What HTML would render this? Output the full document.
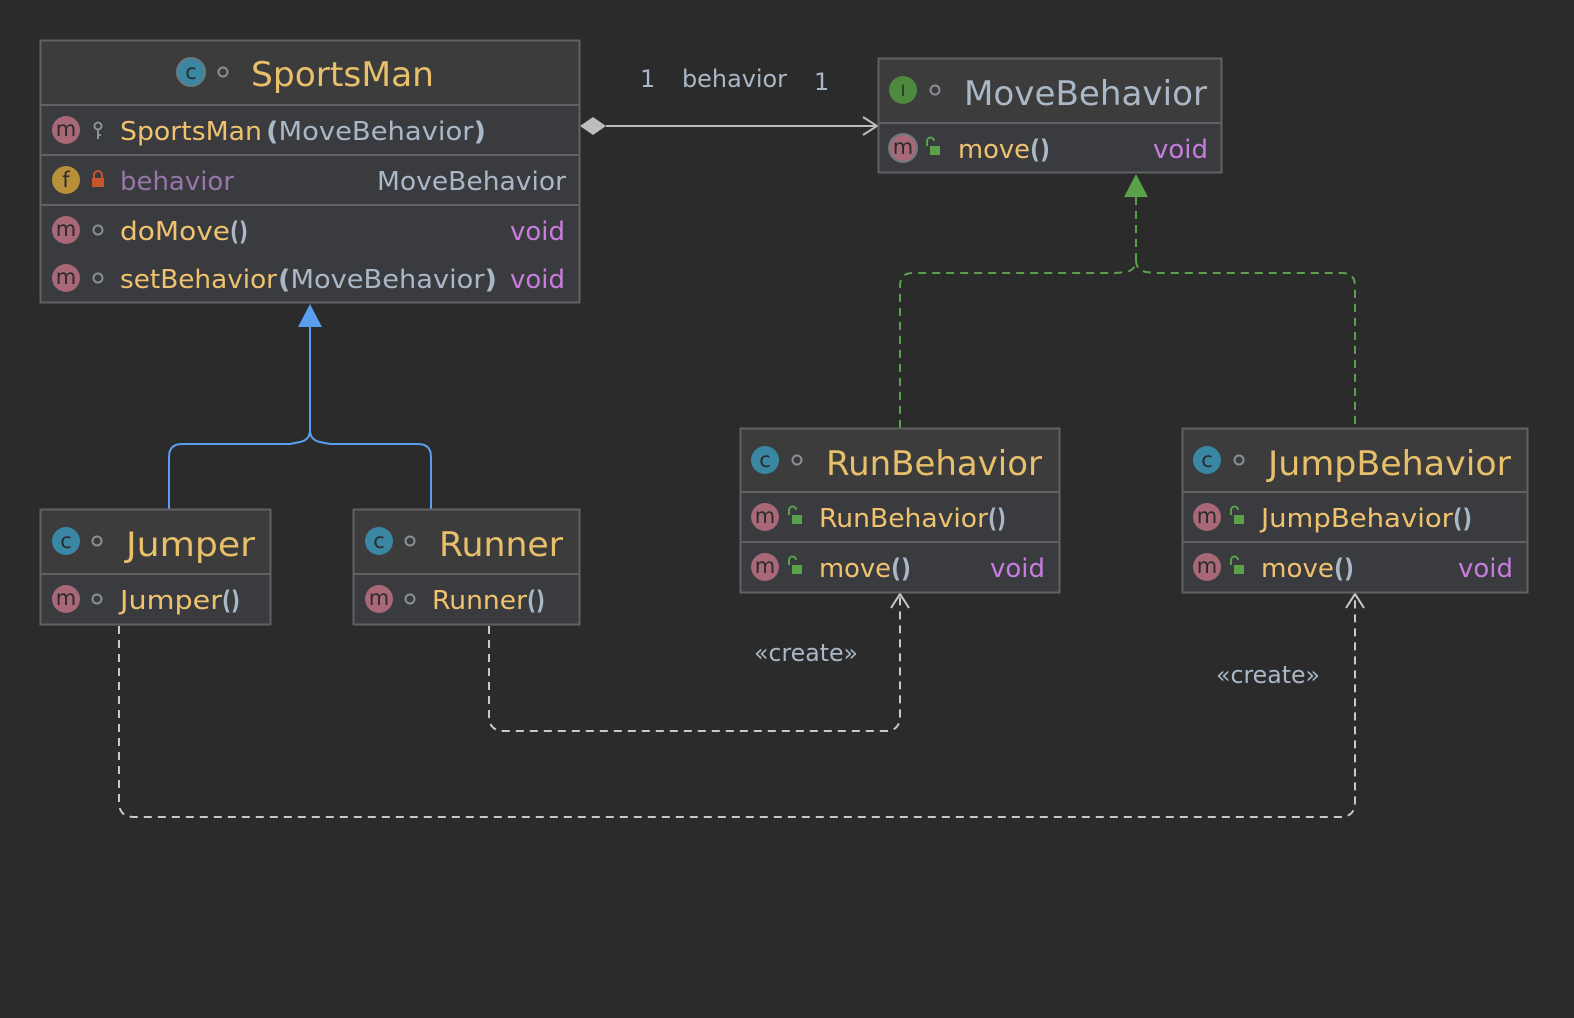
<!DOCTYPE html>
<html><head><meta charset="utf-8"><style>
html,body{margin:0;padding:0;background:#2b2b2b;}
svg{display:block;}
text{font-family:"DejaVu Sans","Liberation Sans",sans-serif;}
.t{font-size:34px;fill:#e8bf6a;}
.m{font-size:26px;fill:#f0c26f;}
.g{font-size:26px;fill:#a9b7c6;}
.v{font-size:26px;fill:#c77dde;}
.p{font-size:26px;fill:#a9b7c6;font-weight:bold;}
.ic{font-size:21px;fill:#2b2b2b;text-anchor:middle;}
.lbl{font-size:24px;fill:#a9b7c6;}
</style></head><body>
<svg width="1574" height="1018" viewBox="0 0 1574 1018" xmlns="http://www.w3.org/2000/svg">
<defs>
<g id="mi"><circle r="14" fill="#a86878"/><text y="6" class="ic">m</text></g>
<g id="ci"><circle r="14" fill="#3a87a3"/><text y="7" class="ic">c</text></g>
<g id="dot"><circle r="4.5" fill="none" stroke="#8a9099" stroke-width="2"/></g>
<g id="unl"><path d="M-6,-2 v-5 a3.5,3.5 0 0 1 7,0" fill="none" stroke="#59a14b" stroke-width="2"/><rect x="-3" y="-2" width="10" height="9" fill="#59a14b"/></g>
</defs>

<g fill="none" stroke-width="2">
<path d="M310,326 V430 Q310,440 300,442 L290,444 H182 Q169,444 169,457 V509" stroke="#5a9ef0"/>
<path d="M310,430 Q310,440 320,442 L330,444 H418 Q431,444 431,457 V509" stroke="#5a9ef0"/>
<path d="M1136,197 V260 Q1136,270 1126,272 L1116,273 H913 Q900,273 900,286 V428" stroke="#59a14b" stroke-dasharray="8,6"/>
<path d="M1136,260 Q1136,270 1146,272 L1156,273 H1342 Q1355,273 1355,286 V428" stroke="#59a14b" stroke-dasharray="8,6"/>
<path d="M489,626 V716 Q489,731 504,731 H885 Q900,731 900,716 V594" stroke="#c9c9c9" stroke-dasharray="8,6"/>
<path d="M119,626 V802 Q119,817 134,817 H1340 Q1355,817 1355,802 V594" stroke="#c9c9c9" stroke-dasharray="8,6"/>
<path d="M891,608 L900,594 L909,608" stroke="#c9c9c9"/>
<path d="M1346,608 L1355,594 L1364,608" stroke="#c9c9c9"/>
<path d="M606,126 H877" stroke="#bdbdbd"/>
<path d="M863,117 L877,126 L863,135" stroke="#bdbdbd"/>
</g>
<polygon points="580,126 593,117 606,126 593,135" fill="#bdbdbd"/>
<polygon points="310,304 298,327 322,327" fill="#5a9ef0"/>
<polygon points="1136,174 1124,197 1148,197" fill="#59a14b"/>
<text x="640" y="87" class="lbl">1</text>
<text x="682" y="87" class="lbl" textLength="105" lengthAdjust="spacingAndGlyphs">behavior</text>
<text x="814" y="90" class="lbl">1</text>
<text x="754" y="661" class="lbl" textLength="104" lengthAdjust="spacingAndGlyphs">«create»</text>
<text x="1216" y="683" class="lbl" textLength="104" lengthAdjust="spacingAndGlyphs">«create»</text>

<rect x="40.5" y="40.5" width="539" height="262" fill="#393b3e" stroke="#5f6163" stroke-width="2"/>
<rect x="41.5" y="41.5" width="537" height="63" fill="#3c3c3c"/>
<line x1="41" y1="105" x2="579" y2="105" stroke="#5f6163" stroke-width="2"/>
<line x1="41" y1="155" x2="579" y2="155" stroke="#5f6163" stroke-width="2"/>
<line x1="41" y1="205" x2="579" y2="205" stroke="#5f6163" stroke-width="2"/>
<g transform="translate(191,72)"><circle r="14" fill="#3a87a3" stroke="#6b7a80" stroke-width="2"/><text y="7" class="ic">c</text></g>
<use href="#dot" x="223" y="72"/>
<text x="251" y="86" class="t" textLength="183" lengthAdjust="spacingAndGlyphs">SportsMan</text>
<use href="#mi" x="66" y="130"/>
<g transform="translate(98,130)" fill="none" stroke="#8a9099" stroke-width="2"><circle cy="-4" r="3.5"/><path d="M0,0 v9 M0,5 h3"/></g>
<text x="120" y="140" class="m" textLength="142" lengthAdjust="spacingAndGlyphs">SportsMan</text>
<text x="266" y="140" class="g" textLength="220" lengthAdjust="spacingAndGlyphs"><tspan font-weight="bold">(</tspan>MoveBehavior<tspan font-weight="bold">)</tspan></text>
<g transform="translate(66,180)"><circle r="14" fill="#b8903a"/><text y="7" class="ic">f</text></g>
<g transform="translate(98,180)"><path d="M-4,-2 v-3 a4,4 0 0 1 8,0 v3" fill="none" stroke="#c8552e" stroke-width="2"/><rect x="-6" y="-2" width="12" height="9" fill="#c8552e"/></g>
<text x="120" y="190" style="font-size:26px;fill:#9876aa" textLength="114" lengthAdjust="spacingAndGlyphs">behavior</text>
<text x="377" y="190" class="g" textLength="189" lengthAdjust="spacingAndGlyphs">MoveBehavior</text>
<use href="#mi" x="66" y="230"/><use href="#dot" x="98" y="230"/>
<text x="120" y="240" class="m" textLength="110" lengthAdjust="spacingAndGlyphs">doMove</text>
<text x="230" y="240" class="p" textLength="18" lengthAdjust="spacingAndGlyphs">()</text>
<text x="510" y="240" class="v" textLength="55" lengthAdjust="spacingAndGlyphs">void</text>
<use href="#mi" x="66" y="278"/><use href="#dot" x="98" y="278"/>
<text x="120" y="288" class="m" textLength="157" lengthAdjust="spacingAndGlyphs">setBehavior</text>
<text x="278" y="288" class="g" textLength="219" lengthAdjust="spacingAndGlyphs"><tspan font-weight="bold">(</tspan>MoveBehavior<tspan font-weight="bold">)</tspan></text>
<text x="510" y="288" class="v" textLength="55" lengthAdjust="spacingAndGlyphs">void</text>

<rect x="878.5" y="58.5" width="343" height="114" fill="#393b3e" stroke="#5f6163" stroke-width="2"/>
<rect x="879.5" y="59.5" width="341" height="63" fill="#3c3c3c"/>
<line x1="879" y1="123" x2="1221" y2="123" stroke="#5f6163" stroke-width="2"/>
<g transform="translate(903,90)"><circle r="14" fill="#4d8a3f"/><text y="6" class="ic" style="font-size:16px">I</text></g>
<use href="#dot" x="935" y="90"/>
<text x="964" y="105" style="font-size:34px;fill:#a9b7c6" textLength="243" lengthAdjust="spacingAndGlyphs">MoveBehavior</text>
<g transform="translate(903,148)"><circle r="14" fill="#a86878" stroke="#6b7a80" stroke-width="2"/><text y="6" class="ic">m</text></g>
<use href="#unl" x="933" y="148"/>
<text x="958" y="158" class="m" textLength="72" lengthAdjust="spacingAndGlyphs">move</text>
<text x="1030" y="158" class="p" textLength="20" lengthAdjust="spacingAndGlyphs">()</text>
<text x="1153" y="158" class="v" textLength="55" lengthAdjust="spacingAndGlyphs">void</text>

<rect x="740.5" y="428.5" width="319" height="164" fill="#393b3e" stroke="#5f6163" stroke-width="2"/>
<rect x="741.5" y="429.5" width="317" height="62" fill="#3c3c3c"/>
<line x1="741" y1="492" x2="1059" y2="492" stroke="#5f6163" stroke-width="2"/>
<line x1="741" y1="542" x2="1059" y2="542" stroke="#5f6163" stroke-width="2"/>
<use href="#ci" x="765" y="460"/><use href="#dot" x="797" y="460"/>
<text x="826" y="475" class="t" textLength="216" lengthAdjust="spacingAndGlyphs">RunBehavior</text>
<use href="#mi" x="765" y="517"/><use href="#unl" x="795" y="517"/>
<text x="819" y="527" class="m" textLength="169" lengthAdjust="spacingAndGlyphs">RunBehavior</text>
<text x="988" y="527" class="p" textLength="18" lengthAdjust="spacingAndGlyphs">()</text>
<use href="#mi" x="765" y="567"/><use href="#unl" x="795" y="567"/>
<text x="819" y="577" class="m" textLength="72" lengthAdjust="spacingAndGlyphs">move</text>
<text x="891" y="577" class="p" textLength="20" lengthAdjust="spacingAndGlyphs">()</text>
<text x="990" y="577" class="v" textLength="55" lengthAdjust="spacingAndGlyphs">void</text>

<rect x="1182.5" y="428.5" width="345" height="164" fill="#393b3e" stroke="#5f6163" stroke-width="2"/>
<rect x="1183.5" y="429.5" width="343" height="62" fill="#3c3c3c"/>
<line x1="1183" y1="492" x2="1527" y2="492" stroke="#5f6163" stroke-width="2"/>
<line x1="1183" y1="542" x2="1527" y2="542" stroke="#5f6163" stroke-width="2"/>
<use href="#ci" x="1207" y="460"/><use href="#dot" x="1239" y="460"/>
<text x="1268" y="475" class="t" textLength="243" lengthAdjust="spacingAndGlyphs">JumpBehavior</text>
<use href="#mi" x="1207" y="517"/><use href="#unl" x="1237" y="517"/>
<text x="1261" y="527" class="m" textLength="192" lengthAdjust="spacingAndGlyphs">JumpBehavior</text>
<text x="1453" y="527" class="p" textLength="19" lengthAdjust="spacingAndGlyphs">()</text>
<use href="#mi" x="1207" y="567"/><use href="#unl" x="1237" y="567"/>
<text x="1261" y="577" class="m" textLength="73" lengthAdjust="spacingAndGlyphs">move</text>
<text x="1334" y="577" class="p" textLength="20" lengthAdjust="spacingAndGlyphs">()</text>
<text x="1458" y="577" class="v" textLength="55" lengthAdjust="spacingAndGlyphs">void</text>

<rect x="40.5" y="509.5" width="230" height="115" fill="#393b3e" stroke="#5f6163" stroke-width="2"/>
<rect x="41.5" y="510.5" width="228" height="63" fill="#3c3c3c"/>
<line x1="41" y1="574" x2="270" y2="574" stroke="#5f6163" stroke-width="2"/>
<use href="#ci" x="66" y="541"/><use href="#dot" x="97" y="541"/>
<text x="126" y="556" class="t" textLength="129" lengthAdjust="spacingAndGlyphs">Jumper</text>
<use href="#mi" x="66" y="599"/><use href="#dot" x="97" y="599"/>
<text x="120" y="609" class="m" textLength="102" lengthAdjust="spacingAndGlyphs">Jumper</text>
<text x="222" y="609" class="p" textLength="18" lengthAdjust="spacingAndGlyphs">()</text>

<rect x="353.5" y="509.5" width="226" height="115" fill="#393b3e" stroke="#5f6163" stroke-width="2"/>
<rect x="354.5" y="510.5" width="224" height="63" fill="#3c3c3c"/>
<line x1="354" y1="574" x2="579" y2="574" stroke="#5f6163" stroke-width="2"/>
<use href="#ci" x="379" y="541"/><use href="#dot" x="410" y="541"/>
<text x="439" y="556" class="t" textLength="124" lengthAdjust="spacingAndGlyphs">Runner</text>
<use href="#mi" x="379" y="599"/><use href="#dot" x="410" y="599"/>
<text x="432" y="609" class="m" textLength="95" lengthAdjust="spacingAndGlyphs">Runner</text>
<text x="527" y="609" class="p" textLength="18" lengthAdjust="spacingAndGlyphs">()</text>
</svg>
</body></html>
